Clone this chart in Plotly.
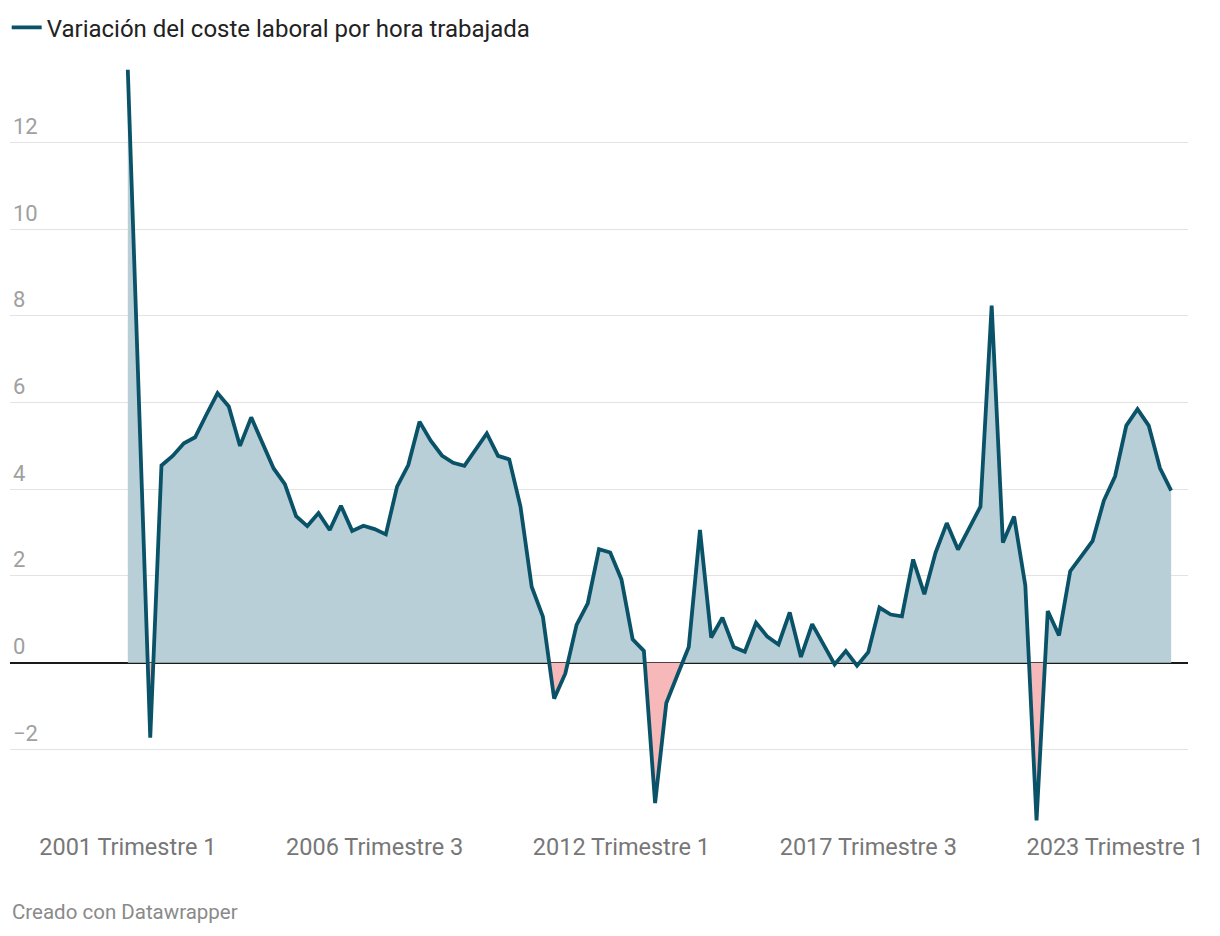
import plotly.graph_objects as go

# ---------------- data ----------------
years = list(range(2001, 2025))
quarters = [1, 2, 3, 4]
categories = [f"{y} Trimestre {q}" for y in years for q in quarters][:94]

values = [
    13.68, 5.98, -1.73, 4.55, 4.77, 5.06, 5.20, 5.72, 6.22, 5.91,
    5.00, 5.66, 5.07, 4.48, 4.12, 3.38, 3.15, 3.45, 3.06, 3.62,
    3.04, 3.16, 3.08, 2.96, 4.06, 4.56, 5.56, 5.12, 4.78, 4.61,
    4.54, 4.91, 5.29, 4.77, 4.69, 3.60, 1.75, 1.06, -0.83, -0.25,
    0.87, 1.37, 2.62, 2.54, 1.92, 0.54, 0.27, -3.24, -0.93, -0.28,
    0.36, 3.06, 0.58, 1.04, 0.36, 0.25, 0.92, 0.60, 0.42, 1.16,
    0.13, 0.89, 0.43, -0.04, 0.27, -0.07, 0.24, 1.27, 1.11, 1.07,
    2.38, 1.58, 2.54, 3.22, 2.61, 3.12, 3.60, 8.24, 2.77, 3.37,
    1.78, -3.64, 1.19, 0.63, 2.11, 2.46, 2.81, 3.74, 4.30, 5.47,
    5.85, 5.47, 4.49, 3.97,
]

tick_labels = ["2001 Trimestre 1", "2006 Trimestre 3", "2012 Trimestre 1",
               "2017 Trimestre 3", "2023 Trimestre 1"]
y_ticks = [-2, 0, 2, 4, 6, 8, 10, 12]

series_name = "Variación del coste laboral por hora trabajada"

# ---------------- styles ----------------
LINE = "#0a5268"
POS_FILL = "#b8cfd8"
NEG_FILL = "#f6b8b8"
FONT = "Roboto"

xs = list(range(len(values)))
tick_pos = [categories.index(t) for t in tick_labels]

# split into positive / negative parts with zero crossings
px, py, nx, ny = [], [], [], []
for i, v in enumerate(values):
    if i > 0:
        v0 = values[i - 1]
        if (v0 > 0 > v) or (v0 < 0 < v):
            xc = (i - 1) + v0 / (v0 - v)
            px.append(xc); py.append(0)
            nx.append(xc); ny.append(0)
    px.append(i); py.append(max(v, 0))
    nx.append(i); ny.append(min(v, 0))

fig = go.Figure()
fig.add_trace(go.Scatter(x=px, y=py, mode="lines", line=dict(width=0),
                         fill="tozeroy", fillcolor=POS_FILL,
                         showlegend=False, hoverinfo="skip"))
fig.add_trace(go.Scatter(x=nx, y=ny, mode="lines", line=dict(width=0),
                         fill="tozeroy", fillcolor=NEG_FILL,
                         showlegend=False, hoverinfo="skip"))
fig.add_trace(go.Scatter(x=xs, y=values, mode="lines", name=series_name,
                         line=dict(color=LINE, width=3.8),
                         text=categories, hovertemplate="%{text}: %{y}<extra></extra>"))

fig.update_layout(
    width=1212, height=928,
    margin=dict(l=2, r=32, t=60, b=113, autoexpand=False),
    paper_bgcolor="white", plot_bgcolor="white",
    font=dict(family=FONT, size=22, color="#222"),
    showlegend=True,
    legend=dict(x=-0.0028, y=1.083, xanchor="left", yanchor="top",
                orientation="h", itemwidth=30,
                font=dict(family=FONT, size=24, color="#222"),
                bgcolor="rgba(0,0,0,0)"),
    xaxis=dict(range=[-10.5, 94.5], tickmode="array", tickvals=tick_pos,
               ticktext=tick_labels, showgrid=False, zeroline=False,
               showline=False, ticks="", automargin=False,
               tickfont=dict(family=FONT, size=23.5, color="#777777"),
               ticklabelstandoff=7),
    yaxis=dict(range=[-3.70, 13.72], tickmode="array", tickvals=y_ticks,
               showgrid=True, gridcolor="#e3e3e3", gridwidth=1,
               zeroline=True, zerolinecolor="#1a1a1a", zerolinewidth=1.6,
               showline=False, ticks="", automargin=False,
               ticklabelposition="inside top", ticklabelshift=-1,
               tickfont=dict(family=FONT, size=22, color="#a0a0a0")),
    annotations=[dict(text="Creado con Datawrapper", xref="paper", yref="paper",
                      x=0, y=-0.118, xanchor="left", yanchor="middle",
                      showarrow=False,
                      font=dict(family=FONT, size=20.5, color="#8a8a8a"))],
)

fig.write_html("out.html")
